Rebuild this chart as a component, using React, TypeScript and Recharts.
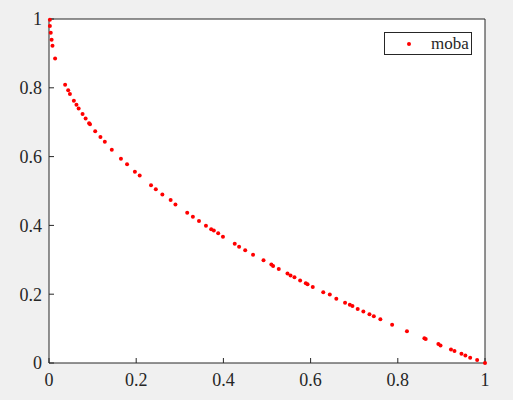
import React from 'react';
import { ScatterChart, Scatter, XAxis, YAxis, CartesianGrid } from 'recharts';

// Pareto front samples
const xValues = [
    0.002, 0.002, 0.004, 0.006, 0.008, 0.014, 0.037, 0.044, 0.048, 0.057,
    0.063, 0.068, 0.077, 0.084, 0.092, 0.094, 0.106, 0.118, 0.128, 0.144,
    0.165, 0.179, 0.197, 0.208, 0.234, 0.245, 0.26, 0.279, 0.29, 0.317,
    0.33, 0.344, 0.36, 0.372, 0.378, 0.388, 0.399, 0.426, 0.436, 0.45,
    0.468, 0.492, 0.51, 0.514, 0.527, 0.547, 0.554, 0.563, 0.576, 0.589,
    0.593, 0.605, 0.629, 0.644, 0.659, 0.679, 0.69, 0.696, 0.708, 0.721,
    0.735, 0.745, 0.76, 0.787, 0.821, 0.861, 0.864, 0.893, 0.898, 0.922,
    0.93, 0.946, 0.955, 0.966, 0.982, 1.0,
];
const yValues = [
    0.998, 0.98, 0.96, 0.94, 0.922, 0.885, 0.809, 0.793, 0.782, 0.762,
    0.751, 0.74, 0.724, 0.711, 0.697, 0.694, 0.674, 0.657, 0.643, 0.62,
    0.594, 0.578, 0.556, 0.545, 0.517, 0.505, 0.49, 0.474, 0.461, 0.437,
    0.425, 0.413, 0.399, 0.389, 0.385, 0.377, 0.367, 0.347, 0.338, 0.328,
    0.315, 0.299, 0.286, 0.282, 0.273, 0.26, 0.254, 0.249, 0.24, 0.232,
    0.229, 0.221, 0.206, 0.199, 0.187, 0.175, 0.169, 0.166, 0.157, 0.15,
    0.142, 0.136, 0.127, 0.111, 0.092, 0.072, 0.07, 0.055, 0.051, 0.039,
    0.035, 0.027, 0.022, 0.015, 0.009, 0.0,
];
const ticks = [0, 0.2, 0.4, 0.6, 0.8, 1];
const seriesName = 'moba';

const points = xValues.map((x, i) => ({ x, y: yValues[i] }));

const axisColor = '#262626';
const font = 'Liberation Serif, serif';
const fmt = (v: number) => (v === 0 || v === 1 ? String(v) : v.toFixed(1));

const XTick = (props: any) => (
    <text x={props.x} y={props.y} dy="0.71em" textAnchor="middle" fontSize={18} fill={axisColor} fontFamily={font}>
        {fmt(props.payload.value)}
    </text>
);
const YTick = (props: any) => (
    <text x={props.x} y={props.y} dy="0.355em" textAnchor="end" fontSize={18} fill={axisColor} fontFamily={font}>
        {fmt(props.payload.value)}
    </text>
);

const Dot = (props: any) => <circle cx={props.cx} cy={props.cy} r={2} fill="#ff0000" />;

const App: React.FC = () => {
    return (
        <div style={{ position: 'absolute', left: 0, top: 0, width: 513, height: 400, background: '#f0f0f0', fontFamily: font }}>
            <ScatterChart width={513} height={400} margin={{ top: 0, right: 0, bottom: 0, left: 0 }}>
                <CartesianGrid horizontal={false} vertical={false} fill="#ffffff" />
                <XAxis
                    type="number" dataKey="x" domain={[0, 1]} ticks={ticks} height={37}
                    tickSize={-5} tickMargin={15} stroke={axisColor} tick={XTick} interval={0}
                />
                <YAxis
                    type="number" dataKey="y" domain={[0, 1]} ticks={ticks} width={49}
                    tickSize={-5} tickMargin={12} stroke={axisColor} tick={YTick} interval={0}
                />
                <XAxis
                    xAxisId="top" orientation="top" type="number" dataKey="x" domain={[0, 1]} ticks={ticks} height={19}
                    tickSize={-5} tick={false} stroke={axisColor} interval={0}
                />
                <YAxis
                    yAxisId="right" orientation="right" type="number" dataKey="y" domain={[0, 1]} ticks={ticks} width={28}
                    tickSize={-5} tick={false} stroke={axisColor} interval={0}
                />
                <Scatter name={seriesName} data={points} shape={Dot} isAnimationActive={false} />
            </ScatterChart>
            <div
                style={{
                    position: 'absolute', left: 384, top: 32, width: 86, height: 21,
                    background: '#ffffff', border: `1px solid ${axisColor}`,
                    fontSize: 17, color: axisColor,
                }}
            >
                <svg width={10} height={10} style={{ position: 'absolute', left: 19, top: 6 }}>
                    <circle cx={5} cy={5} r={2} fill="#ff0000" />
                </svg>
                <span style={{ position: 'absolute', left: 46, top: 0, lineHeight: '21px' }}>{seriesName}</span>
            </div>
        </div>
    );
};

export default App;
